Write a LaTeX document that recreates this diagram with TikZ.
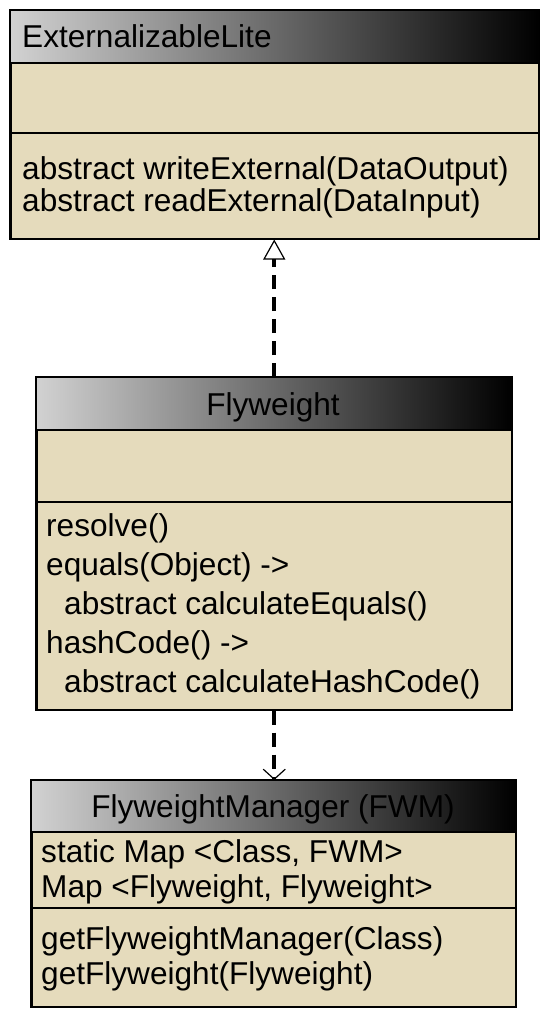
\documentclass[tikz,border=0pt]{standalone}
\usepackage{fontspec}
\setmainfont{Liberation Sans}
\usetikzlibrary{arrows.meta, calc, positioning}
\definecolor{classFill}{RGB}{229,219,188}
\definecolor{headLight}{RGB}{210,210,210}

\begin{document}
\begin{tikzpicture}[x=1pt, y=-1pt,
    classbox/.style={draw, line width=1.5pt, fill=classFill, inner sep=0pt, anchor=north west},
    member/.style={anchor=base west, inner sep=0pt, font=\fontsize{31.6}{37}\selectfont},
    classname/.style={anchor=base, inner sep=0pt, font=\fontsize{31.6}{37}\selectfont},
    depline/.style={line width=4pt, dash pattern=on 14pt off 8pt},
]
    \useasboundingbox (0,0) rectangle (540,1013);

    % ExternalizableLite
    \node[classbox, minimum width=528pt, minimum height=228pt] (ext) at (10,10) {};
    \shade[left color=headLight, right color=black] (ext.north west) rectangle ($(ext.north east)+(0,53)$);
    \draw[line width=1.5pt] ($(ext.north west)+(0,53)$) -- ($(ext.north east)+(0,53)$);
    \draw[line width=1.5pt] ($(ext.north west)+(0,123)$) -- ($(ext.north east)+(0,123)$);
    \draw[line width=1.5pt] (ext.north west) rectangle (ext.south east);
    \node[member] (extname) at (22,47) {ExternalizableLite};
    \node[member] (extop1) at (22,179) {abstract writeExternal(DataOutput)};
    \node[member] (extop2) at (22,211) {abstract readExternal(DataInput)};

    % Flyweight
    \node[classbox, minimum width=475pt, minimum height=332pt] (fly) at (36,377) {};
    \shade[left color=headLight, right color=black] (fly.north west) rectangle ($(fly.north east)+(0,53)$);
    \draw[line width=1.5pt] ($(fly.north west)+(0,53)$) -- ($(fly.north east)+(0,53)$);
    \draw[line width=1.5pt] ($(fly.north west)+(0,125)$) -- ($(fly.north east)+(0,125)$);
    \draw[line width=1.5pt] (fly.north west) rectangle (fly.south east);
    \node[classname] (flyname) at (273,415) {Flyweight};
    \node[member] (flyop1) at (46,536) {resolve()};
    \node[member] (flyop2) at (46,575) {equals(Object) ->};
    \node[member] (flyop3) at (64,614) {abstract calculateEquals()};
    \node[member] (flyop4) at (46,653) {hashCode() ->};
    \node[member] (flyop5) at (64,692) {abstract calculateHashCode()};

    % FlyweightManager
    \node[classbox, minimum width=484pt, minimum height=226pt] (fwm) at (31,780) {};
    \shade[left color=headLight, right color=black] (fwm.north west) rectangle ($(fwm.north east)+(0,52)$);
    \draw[line width=1.5pt] ($(fwm.north west)+(0,52)$) -- ($(fwm.north east)+(0,52)$);
    \draw[line width=1.5pt] ($(fwm.north west)+(0,128)$) -- ($(fwm.north east)+(0,128)$);
    \draw[line width=1.5pt] (fwm.north west) rectangle (fwm.south east);
    \node[classname] (fwmname) at (273,817) {FlyweightManager (FWM)};
    \node[member] (fwmattr1) at (41,862) {static Map <Class, FWM>};
    \node[member] (fwmattr2) at (41,897) {Map <Flyweight, Flyweight>};
    \node[member] (fwmop1) at (41,949) {getFlyweightManager(Class)};
    \node[member] (fwmop2) at (41,984) {getFlyweight(Flyweight)};

    % connectors
    \draw[depline, -{Triangle[open, length=20pt, width=22pt, line width=1.2pt]}] (fly.north) -- (fly.north |- ext.south);
    \draw[depline, -{Straight Barb[length=10pt, width=22pt, line width=1.2pt]}] (fly.south) -- (fly.south |- fwm.north);
\end{tikzpicture}
\end{document}
